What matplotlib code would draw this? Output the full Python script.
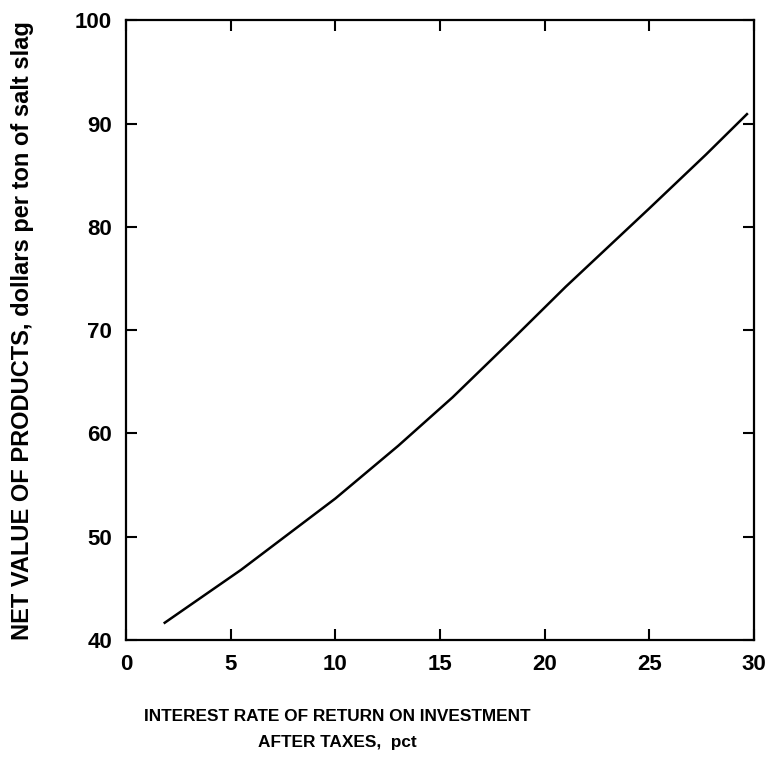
import numpy as np
import matplotlib
matplotlib.use("Agg")
import matplotlib.pyplot as plt

# interest rate after taxes (pct) vs net value of products ($/ton salt slag)
rate = [1.8, 5.5, 10.0, 13.0, 15.6, 18.5, 21.0, 25.0, 27.7, 29.7]
net_value = [41.6, 46.8, 53.7, 58.8, 63.5, 69.2, 74.2, 81.8, 87.0, 91.0]

x_ticks = [0, 5, 10, 15, 20, 25, 30]
y_ticks = [40, 50, 60, 70, 80, 90, 100]

xtitle1 = "INTEREST RATE OF RETURN ON INVESTMENT"
xtitle2 = "AFTER TAXES,  pct"
ytitle = "NET VALUE OF PRODUCTS, dollars per ton of salt slag"

font = "Liberation Sans"

fig = plt.figure(figsize=(7.66, 7.66), dpi=100)
ax = fig.add_axes([0.1645, 0.1645, 0.820, 0.809])

ax.plot(rate, net_value, color="black", lw=1.8, solid_capstyle="butt")

ax.set_xlim(0, 30)
ax.set_ylim(40, 100)
ax.set_xticks(x_ticks)
ax.set_yticks(y_ticks)
ax.tick_params(direction="in", length=8, width=1.5, top=True, right=True,
               labelsize=16, pad=10)
for lab in ax.get_xticklabels() + ax.get_yticklabels():
    lab.set_fontfamily(font)
    lab.set_fontweight("bold")
for sp in ax.spines.values():
    sp.set_linewidth(1.6)

fig.text(0.44, 0.065, xtitle1, ha="center", va="center",
         fontsize=12.4, fontweight="bold", family=font)
fig.text(0.44, 0.031, xtitle2, ha="center", va="center",
         fontsize=12.4, fontweight="bold", family=font)
fig.text(0.029, 0.569, ytitle, ha="center", va="center", rotation=90,
         fontsize=17, fontweight="bold", family=font)

fig.savefig("out.png", dpi=100)
